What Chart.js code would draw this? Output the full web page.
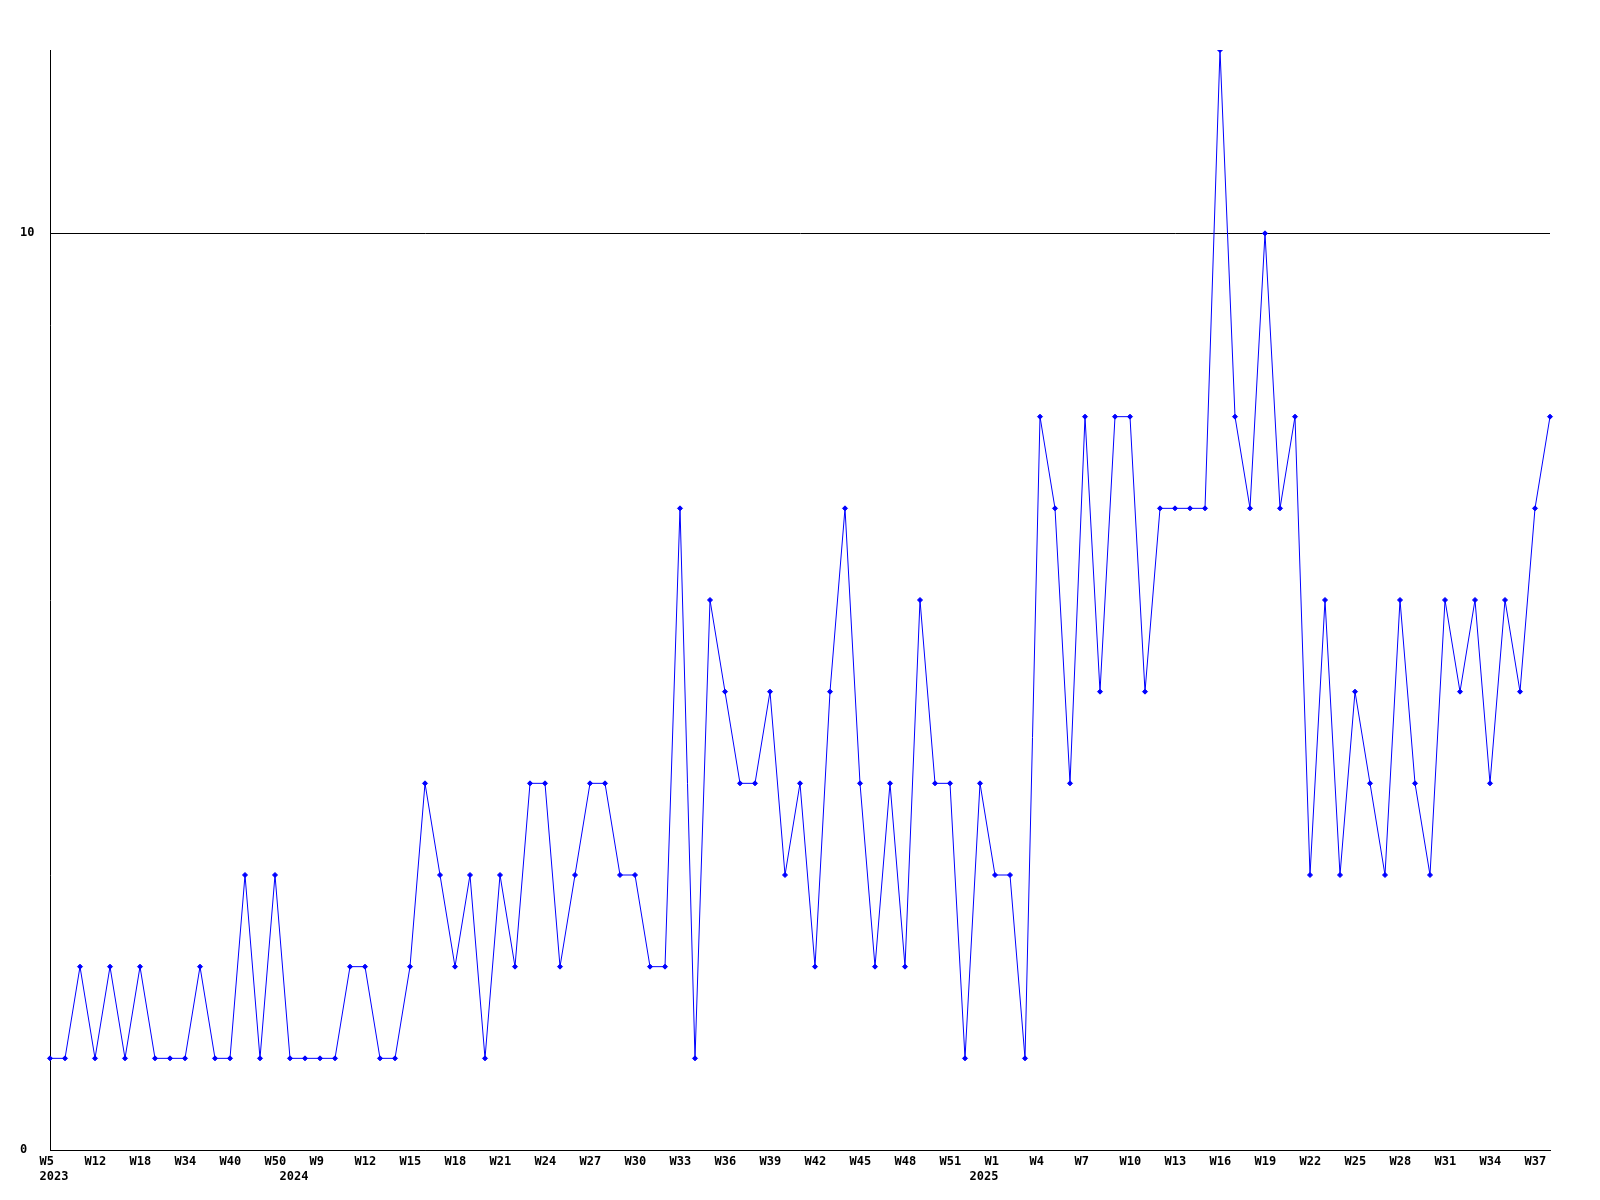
<!DOCTYPE html>
<html>
<head>
<meta charset="utf-8">
<title>Weekly count</title>
<script src="https://cdn.jsdelivr.net/npm/chart.js@4.4.1/dist/chart.umd.min.js"></script>
<style>
    body { margin: 0; background: #fff; }
    #chart { display: block; }
</style>
</head>
<body>
<canvas id="chart" width="1600" height="1200"></canvas>
<script>
// year-week categories, one per point
const weeks = [
    '2023-W5', '2023-W8', '2023-W10', '2023-W12', '2023-W14', '2023-W16', '2023-W18', '2023-W22',
    '2023-W30', '2023-W34', '2023-W36', '2023-W38', '2023-W40', '2023-W44', '2023-W47', '2023-W50',
    '2024-W7', '2024-W8', '2024-W9', '2024-W10', '2024-W11', '2024-W12', '2024-W13', '2024-W14',
    '2024-W15', '2024-W16', '2024-W17', '2024-W18', '2024-W19', '2024-W20', '2024-W21', '2024-W22',
    '2024-W23', '2024-W24', '2024-W25', '2024-W26', '2024-W27', '2024-W28', '2024-W29', '2024-W30',
    '2024-W31', '2024-W32', '2024-W33', '2024-W34', '2024-W35', '2024-W36', '2024-W37', '2024-W38',
    '2024-W39', '2024-W40', '2024-W41', '2024-W42', '2024-W43', '2024-W44', '2024-W45', '2024-W46',
    '2024-W47', '2024-W48', '2024-W49', '2024-W50', '2024-W51', '2024-W52',
    '2025-W0', '2025-W1', '2025-W2', '2025-W3', '2025-W4', '2025-W5', '2025-W6', '2025-W7',
    '2025-W8', '2025-W9', '2025-W10', '2025-W11', '2025-W12', '2025-W13', '2025-W14', '2025-W15',
    '2025-W16', '2025-W17', '2025-W18', '2025-W19', '2025-W20', '2025-W21', '2025-W22', '2025-W23',
    '2025-W24', '2025-W25', '2025-W26', '2025-W27', '2025-W28', '2025-W29', '2025-W30', '2025-W31',
    '2025-W32', '2025-W33', '2025-W34', '2025-W35', '2025-W36', '2025-W37', '2025-W38'
];

const counts = [
    1, 1, 2, 1, 2, 1, 2, 1, 1, 1,
    2, 1, 1, 3, 1, 3, 1, 1, 1, 1,
    2, 2, 1, 1, 2, 4, 3, 2, 3, 1,
    3, 2, 4, 4, 2, 3, 4, 4, 3, 3,
    2, 2, 7, 1, 6, 5, 4, 4, 5, 3,
    4, 2, 5, 7, 4, 2, 4, 2, 6, 4,
    4, 1, 4, 3, 3, 1, 8, 7, 4, 8,
    5, 8, 8, 5, 7, 7, 7, 7, 12, 8,
    7, 10, 7, 8, 3, 6, 3, 5, 4, 3,
    6, 4, 3, 6, 5, 6, 4, 6, 5, 7,
    8
];

const yTicks = [0, 10];
const yMax = 12;

const font = { family: '"DejaVu Sans Mono", "Liberation Mono", monospace', size: 12, weight: 'bold', lineHeight: '15px' };

function weekLabel(value, index) {
    const parts = weeks[index].split('-');
    const newYear = index === 0 || weeks[index - 1].split('-')[0] !== parts[0];
    const showWeek = index % 3 === 0;
    if (!showWeek && !newYear) {
        return null;
    }
    return [showWeek ? parts[1] : '', newYear ? parts[0] : ''];
}

new Chart(document.getElementById('chart'), {
    type: 'line',
    data: {
        labels: weeks,
        datasets: [
            {
                data: counts,
                borderColor: '#0000ff',
                backgroundColor: '#0000ff',
                borderWidth: 1,
                pointStyle: 'rectRot',
                pointRadius: 2.5,
                pointBorderWidth: 1,
                tension: 0,
                fill: false
            }
        ]
    },
    options: {
        responsive: false,
        animation: false,
        layout: { padding: { left: 20, top: 50, right: 50, bottom: 12 } },
        plugins: {
            legend: { display: false },
            tooltip: { enabled: false }
        },
        scales: {
            x: {
                type: 'category',
                offset: false,
                grid: { display: false, drawTicks: false },
                border: { display: true, color: '#000', width: 1 },
                ticks: {
                    autoSkip: false,
                    maxRotation: 0,
                    minRotation: 0,
                    align: 'start',
                    labelOffset: -10.5,
                    padding: 4,
                    color: '#000',
                    font: font,
                    callback: weekLabel
                }
            },
            y: {
                min: 0,
                max: yMax,
                afterBuildTicks: function(scale) {
                    scale.ticks = yTicks.map(v => ({ value: v }));
                },
                afterFit: function(scale) {
                    scale.width = 30;
                },
                grid: { color: '#000', lineWidth: 1, drawTicks: false },
                border: { display: true, color: '#000', width: 1 },
                ticks: {
                    crossAlign: 'far',
                    color: '#000',
                    font: font
                }
            }
        }
    }
});
</script>
</body>
</html>
